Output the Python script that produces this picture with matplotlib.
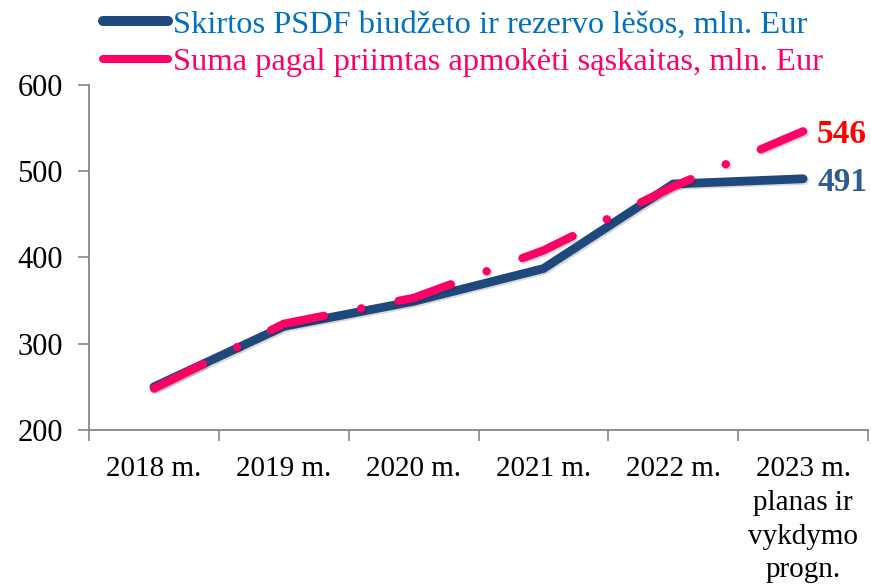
import matplotlib
matplotlib.use("Agg")
import matplotlib.pyplot as plt
from matplotlib.lines import Line2D
import matplotlib.patheffects as pe

categories = ["2018 m.", "2019 m.", "2020 m.", "2021 m.", "2022 m.",
              "2023 m.\nplanas ir\nvykdymo\nprogn."]
budget = [250, 320, 349, 387, 485, 491]
invoices = [248, 323, 353, 408, 482, 546]
series_names = ["Skirtos PSDF biudžeto ir rezervo lėšos, mln. Eur",
                "Suma pagal priimtas apmokėti sąskaitas, mln. Eur"]
yticks = [200, 300, 400, 500, 600]

plt.rcParams['font.family'] = ['Liberation Serif', 'DejaVu Serif']
plt.rcParams['lines.scale_dashes'] = False

NAVY = "#1F497D"
PINK = "#FF0066"

fig = plt.figure(figsize=(8.71, 5.84), dpi=100)
ax = fig.add_axes([0.1022, 0.2637, 0.8944, 0.5913])

x = list(range(len(categories)))
shadow = [pe.SimpleLineShadow(offset=(1.2, -1.2), alpha=0.15, shadow_color='black'), pe.Normal()]
ax.plot(x, budget, color=NAVY, lw=6.3, solid_capstyle='round', solid_joinstyle='round',
        path_effects=shadow, zorder=3)
ax.plot(x, invoices, color=PINK, lw=6.0, dash_capstyle='round', dash_joinstyle='round',
        linestyle=(0, (39.5, 27.4, 0.1, 27.4)), path_effects=shadow, zorder=4)

ax.set_xlim(-0.5, len(categories) - 0.5)
ax.set_ylim(200, 600)
ax.set_yticks(yticks)
ax.set_xticks(x)
ax.set_xticklabels(categories, fontsize=21, linespacing=1.38)
ax.set_xticks([i - 0.5 for i in range(len(categories) + 1)], minor=True)
ax.tick_params(axis='x', which='major', length=0, pad=19)
ax.tick_params(axis='x', which='minor', length=8, width=1.2, color='#868686', direction='out')
ax.tick_params(axis='y', length=8, width=1.2, color='#868686', direction='out', labelsize=22, pad=11)

for s in ['top', 'right']:
    ax.spines[s].set_visible(False)
for s in ['left', 'bottom']:
    ax.spines[s].set_color('#868686')
    ax.spines[s].set_linewidth(1.3)

ax.annotate(str(invoices[-1]), (x[-1], invoices[-1]), xytext=(10, -2), textcoords='offset points',
            fontsize=24, fontweight='bold', color='#FF0000', va='center', ha='left')
ax.annotate(str(budget[-1]), (x[-1], budget[-1]), xytext=(10, -3), textcoords='offset points',
            fontsize=24, fontweight='bold', color='#2E5C8F', va='center', ha='left')

handles = [Line2D([], [], color=NAVY, lw=7.2, solid_capstyle='round'),
           Line2D([], [], color=PINK, lw=5.8, solid_capstyle='round')]
leg = fig.legend(handles, series_names, loc='upper left', bbox_to_anchor=(0.088, 1.028),
                 frameon=False, fontsize=23.4, handlelength=2.02, handletextpad=0.15,
                 labelspacing=0.24, borderpad=0.3, labelcolor=['#0070C0', PINK])

fig.savefig("out.png", dpi=100)
